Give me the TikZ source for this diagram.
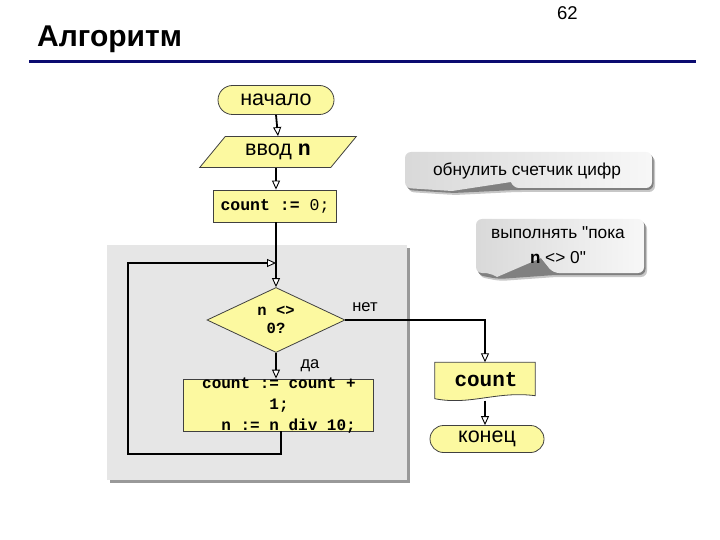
\documentclass[tikz,border=0pt]{standalone}
\usepackage{fontspec}
\setmainfont{Liberation Sans}
\setmonofont{Liberation Mono}
\usetikzlibrary{arrows.meta,shapes.geometric,shapes.misc,calc}
\definecolor{fy}{HTML}{FCF9A0}
\definecolor{navy}{HTML}{0B0B70}
\definecolor{panel}{HTML}{E6E6E6}
\newcommand{\sq}{\XeTeXglyph\XeTeXcharglyph"22\relax}
\begin{document}
\begin{tikzpicture}[x=1pt,y=-1pt,
  >={Triangle[length=9pt,width=8pt,line width=0.9pt,fill=white]},
  conn/.style={draw=black,line width=1.8pt},
  boxst/.style={draw=black!75,line width=0.8pt,fill=fy},
  term/.style={boxst,rounded rectangle,inner sep=0pt,font=\fontsize{21.5}{23}\selectfont},
  proc/.style={boxst,rectangle,inner sep=0pt},
  code/.style={font=\ttfamily\bfseries\fontsize{16}{21}\selectfont,inner sep=0pt},
  lab/.style={font=\fontsize{16.5}{18}\selectfont,inner sep=0pt},
  ctext/.style={font=\fontsize{17.3}{25}\selectfont,inner sep=0pt,align=center},
  shade1/.style={fill=black!22},
  shade2/.style={fill=black!50},
  cfill/.style={left color=black!15,right color=black!3,draw=none}
]
\useasboundingbox (0,0) rectangle (720,540);

% title
\node[font=\bfseries\fontsize{30}{32}\selectfont,anchor=base west,inner sep=0pt] (title) at (37,47) {Алгоритм};
\node[font=\fontsize{18.5}{20}\selectfont,anchor=base west,inner sep=0pt] (pg) at (557,20) {62};
\draw[navy,line width=3pt] (29,62) -- (696,62);

% grey panel
\fill[black!40] (110,248) rectangle (410,483);
\fill[panel] (107,245) rectangle (407,480);

% main column
\node[term,minimum width=116pt,minimum height=29pt] (start) at (276,100) {начало};
\node[boxst,trapezium,trapezium left angle=45,trapezium right angle=135,trapezium stretches=true,
      minimum width=158pt,minimum height=31pt,inner sep=0pt,font=\fontsize{21.5}{23}\selectfont] (in) at (278,152)
      {ввод \texttt{\bfseries n}};
\node[proc,minimum width=123pt,minimum height=32pt,font=\ttfamily\fontsize{16.5}{18}\selectfont] (init) at (275,206)
      {\textbf{count :=} 0;};
\node[boxst,diamond,aspect=2,minimum width=138pt,minimum height=65pt,inner sep=0pt,
      font=\ttfamily\bfseries\fontsize{15.5}{18}\selectfont,align=center] (cond) at (276,320) {n <>\\0?};
\node[proc,minimum width=190pt,minimum height=52pt] (body) at (278,405) {};
\node[code,align=center] (bodytxt) at (279,406) {count := count +\\1;\\\phantom{nn}n := n div 10;};

% output and end
\node[inner sep=0pt,minimum width=100pt,minimum height=37pt] (cnt) at (485,381) {};
\draw[boxst] (cnt.north west) -- (cnt.north east) -- ($(cnt.south east)+(0,-4)$)
   .. controls ($(cnt.south)+(12,-9)$) and ($(cnt.south)+(-15,6)$) .. ($(cnt.south west)+(0,-1)$) -- cycle;
\node[inner sep=0pt,font=\ttfamily\bfseries\fontsize{21}{22}\selectfont] (cnttxt) at (486,380) {count};
\node[term,minimum width=114pt,minimum height=27pt] (end) at (487,439) {конец};

% connectors
\coordinate (join) at (276,263);
\draw[conn,->] (start.south) -- (in.north);
\draw[conn,->] (in.south -| start.south) -- (init.north -| start.south);
\draw[conn] (init.south -| join) -- (join);
\draw[conn,->] (join) -- (cond.north);
\draw[conn,->] (cond.south) -- (cond.south |- body.north);
\coordinate (lb) at (128,454);
\draw[conn,->] ([xshift=3pt]body.south) |- (lb) |- (join);
\draw[conn,->] (cond.east) -| (cnt.north);
\draw[conn,->] ([yshift=-1pt]cnt.south) -- (cnt.south |- end.north);

\node[lab] (no) at (365,307) {нет};
\node[lab] (yes) at (310,366) {да};

% callout 1
\begin{scope}[shift={(3,4)}]
\fill[shade1,rounded corners=6pt] (405,152) -- (652,152) -- (652,188) -- (513,188) -- (452,191) -- (405,188) -- cycle;
\end{scope}
\begin{scope}[shift={(1.5,2)}]
\fill[shade2,rounded corners=6pt] (405,152) -- (652,152) -- (652,188) -- (513,188) -- (452,191) -- (405,188) -- cycle;
\end{scope}
\path[cfill,rounded corners=6pt] (405,152) -- (652,152) -- (652,188) -- (513,188)
   [sharp corners] -- (511,182) -- (452,191) [rounded corners=6pt] -- (405,188) -- cycle;
\node[ctext] (c1) at (527,171) {обнулить счетчик цифр};

% callout 2
\begin{scope}[shift={(3,4)}]
\fill[shade1,rounded corners=6pt] (476,219) -- (644,219) -- (644,273) -- (553,273) -- (497,277) -- (476,273) -- cycle;
\end{scope}
\begin{scope}[shift={(1.5,2)}]
\fill[shade2,rounded corners=6pt] (476,219) -- (644,219) -- (644,273) -- (553,273) -- (497,277) -- (476,273) -- cycle;
\end{scope}
\path[cfill,rounded corners=6pt] (476,219) -- (644,219) -- (644,273) -- (553,273)
   [sharp corners] -- (541,258) -- (497,277) [rounded corners=6pt] -- (490,273) -- (476,273) -- cycle;
\node[ctext] (c2) at (558,245) {выполнять \sq пока\\{\ttfamily\bfseries n} <> 0\sq};
\end{tikzpicture}
\end{document}
